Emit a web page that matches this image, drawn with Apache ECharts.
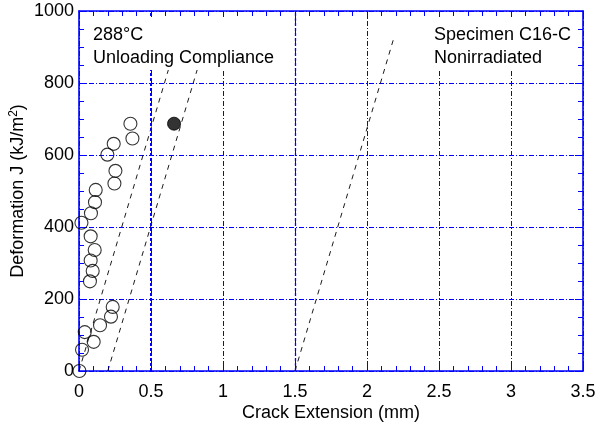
<!DOCTYPE html>
<html>
<head>
<meta charset="utf-8">
<script src="https://cdn.jsdelivr.net/npm/echarts@6/dist/echarts.min.js"></script>
<style>html,body{margin:0;padding:0;background:#fff}#c{width:604px;height:433px}</style>
</head>
<body>
<div id="c"></div>
<script>
// Data
var crackExtHollow = [0.003,0.021,0.040,0.102,0.146,0.222,0.234,0.076,0.095,0.081,0.109,0.081,0.017,0.083,0.111,0.116,0.246,0.253,0.197,0.241,0.371,0.357];
var jHollow        = [0,59,108,81,127,151,178,249,278,307,336,374,412,438,469,503,521,556,601,631,646,687];
var crackExtFilled = [0.66];
var jFilled        = [687];
// Construction (dashed) lines: start offset on crack axis, end point
var lineStartX = [0, 0.2, 1.5];
var lineEndX   = [0.69, 0.89, 2.19];
var lineEndJ   = [930, 930, 930];
// Emphasised vertical lines
var limitLines = [0.5, 1.5];
// Axis ticks
var xTicks = {min: 0, max: 3.5, interval: 0.5};
var yTicks = {min: 0, max: 1000, interval: 200};

var FONT = 'Liberation Sans, Arial, Helvetica, sans-serif';
var BLUE = '#0000ff';

function zip(a, b) { return a.map(function (v, i) { return [v, b[i]]; }); }

var series = [];
series.push({
  type: 'line', xAxisIndex: 0, yAxisIndex: 0, data: [], silent: true, z: 2,
  markLine: {silent: true, symbol: 'none', label: {show: false}, animation: false,
    data: [
      {xAxis: limitLines[0], lineStyle: {color: BLUE, width: 2, type: [3, 2]}},
      {xAxis: limitLines[1], lineStyle: {color: BLUE, width: 1.3, type: [3, 2]}}
    ]}
});
for (var i = 0; i < lineStartX.length; i++) {
  series.push({
    type: 'line', xAxisIndex: 0, yAxisIndex: 0,
    data: [[lineStartX[i], 0], [lineEndX[i], lineEndJ[i]]],
    showSymbol: false, symbol: 'none', silent: true,
    lineStyle: {color: '#000', width: 0.9, type: [5, 5]},
    z: 3
  });
}
series.push({
  type: 'scatter', xAxisIndex: 0, yAxisIndex: 0,
  data: zip(crackExtHollow, jHollow),
  symbol: 'circle', symbolSize: 13,
  itemStyle: {color: 'rgba(0,0,0,0)', borderColor: '#000', borderWidth: 1.1},
  z: 5, silent: true
});
series.push({
  type: 'scatter', xAxisIndex: 0, yAxisIndex: 0,
  data: zip(crackExtFilled, jFilled),
  symbol: 'circle', symbolSize: 13,
  itemStyle: {color: '#000', borderColor: '#000', borderWidth: 1},
  z: 5, silent: true
});

function gridLine() { return {show: true, lineStyle: {color: BLUE, width: 1, type: [5, 2, 1, 2]}}; }
function axisLine() { return {show: true, onZero: false, lineStyle: {color: BLUE, width: 1.6}}; }
function tick() { return {show: true, inside: true, length: 8, lineStyle: {color: BLUE, width: 1}}; }
function minor(n) { return {show: true, splitNumber: n, length: 5, lineStyle: {color: BLUE, width: 1}}; }

var chart = echarts.init(document.getElementById('c'), null, {renderer: 'canvas'});
chart.setOption({
  animation: false,
  backgroundColor: '#fff',
  grid: {left: 79, right: 21, top: 11, bottom: 62, containLabel: false, outerBoundsMode: 'none'},
  xAxis: [{
    type: 'value', position: 'bottom', min: xTicks.min, max: xTicks.max, interval: xTicks.interval,
    name: 'Crack Extension (mm)', nameLocation: 'middle', nameGap: 33, nameMoveOverlap: false,
    nameTextStyle: {fontFamily: FONT, fontSize: 18, color: '#000'},
    axisLine: axisLine(), axisTick: tick(), minorTick: minor(5),
    axisLabel: {fontFamily: FONT, fontSize: 18, color: '#000', margin: 12},
    splitLine: gridLine()
  }, {
    type: 'value', position: 'top', min: xTicks.min, max: xTicks.max, interval: xTicks.interval,
    axisLine: axisLine(), axisTick: tick(), minorTick: minor(5),
    axisLabel: {show: false}, splitLine: {show: false}
  }],
  yAxis: [{
    type: 'value', position: 'left', min: yTicks.min, max: yTicks.max, interval: yTicks.interval,
    name: 'Deformation J (kJ/m{sup|2})', nameLocation: 'middle', nameGap: 51, nameRotate: 90, nameMoveOverlap: false,
    nameTextStyle: {fontFamily: FONT, fontSize: 18, color: '#000',
      rich: {sup: {fontFamily: FONT, fontSize: 12, color: '#000', verticalAlign: 'bottom', padding: [0, 0, 8, 0]}}},
    axisLine: axisLine(), axisTick: tick(), minorTick: minor(4),
    axisLabel: {fontFamily: FONT, fontSize: 18, color: '#000', margin: 5, formatter: function (v) { return String(v); }},
    splitLine: gridLine()
  }, {
    type: 'value', position: 'right', min: yTicks.min, max: yTicks.max, interval: yTicks.interval,
    axisLine: axisLine(), axisTick: tick(), minorTick: minor(4),
    axisLabel: {show: false}, splitLine: {show: false}
  }],
  graphic: [
    {type: 'rect', z: 50, silent: true, shape: {x: 88, y: 17, width: 194, height: 53}, style: {fill: '#fff'}},
    {type: 'rect', z: 50, silent: true, shape: {x: 428, y: 17, width: 120, height: 53}, style: {fill: '#fff'}},
    {type: 'text', z: 51, silent: true, x: 93, y: 35, style: {text: '288°C', font: '18px ' + FONT, fill: '#000', verticalAlign: 'middle'}},
    {type: 'text', z: 51, silent: true, x: 93, y: 58, style: {text: 'Unloading Compliance', font: '18px ' + FONT, fill: '#000', verticalAlign: 'middle'}},
    {type: 'text', z: 51, silent: true, x: 434, y: 35, style: {text: 'Specimen C16-C', font: '18px ' + FONT, fill: '#000', verticalAlign: 'middle'}},
    {type: 'text', z: 51, silent: true, x: 434, y: 58, style: {text: 'Nonirradiated', font: '18px ' + FONT, fill: '#000', verticalAlign: 'middle'}}
  ],
  series: series
});
</script>
</body>
</html>
